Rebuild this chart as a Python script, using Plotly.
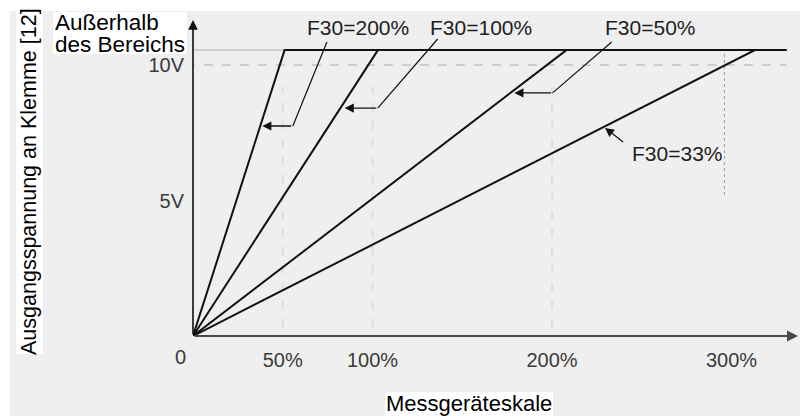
import plotly.graph_objects as go

# Output voltage at terminal [12] versus meter scale for several F30 gains
f30_labels = ["F30=200%", "F30=100%", "F30=50%", "F30=33%"]
knee_pct = [51, 103, 208, 313]        # meter scale (%) where the output saturates
sat_volt = 10.55                      # saturated ("out of range") output level, V
line_end_pct = 330.5                  # end of the saturated segment

x_tick_vals = [50, 100, 200, 300]
x_tick_text = ["50%", "100%", "200%", "300%"]
y_tick_vals = [5, 10]
y_tick_text = ["5V", "10V"]

W, H = 800, 416
ML, MR, MT, MB = 193, 2, 10, 80
X_MAX = 337.0
Y_MAX = 12.03

BG = "#efefef"
INK = "#111111"
FONT = "Liberation Sans, Arial, Helvetica, sans-serif"


def px_x(px):
    return (px - ML) / (W - ML - MR)


def px_y(py):
    return (H - MB - py) / (H - MT - MB)


fig = go.Figure()

# faint scan-style guide lines
guide = dict(color="#d4d4d4", width=2, dash="dash")
fig.add_trace(go.Scatter(x=[-4, line_end_pct], y=[10, 10], mode="lines",
                         line=dict(color="#cdcdcd", width=2, dash="dash"),
                         hoverinfo="skip", cliponaxis=False))
fig.add_trace(go.Scatter(x=[0, knee_pct[0]], y=[sat_volt, sat_volt], mode="lines",
                         line=dict(color="#d0d0d0", width=2),
                         hoverinfo="skip", cliponaxis=False))
for gx in x_tick_vals[:3]:
    fig.add_trace(go.Scatter(x=[gx, gx], y=[0.3, 9.2], mode="lines", line=guide,
                             opacity=0.6, hoverinfo="skip", cliponaxis=False))
fig.add_trace(go.Scatter(x=[296, 296], y=[5.2, 10.55], mode="lines",
                         line=dict(color="#9a9a9a", width=1, dash="dot"),
                         hoverinfo="skip", cliponaxis=False))

# characteristic lines: linear rise, then saturation
for name, knee in zip(f30_labels, knee_pct):
    fig.add_trace(go.Scatter(
        x=[0, knee, line_end_pct], y=[0, sat_volt, sat_volt],
        mode="lines", name=name, line=dict(color=INK, width=2),
        cliponaxis=False, hoverinfo="skip"))

# leader lines from the labels (last point is the elbow before the arrow)
leaders = [
    ([74.6, 55.6], [10.85, 7.75]),
    ([136.3, 102.9], [10.96, 8.41]),
    ([233.2, 200.3], [10.85, 8.97]),
]
for lx, ly in leaders:
    fig.add_trace(go.Scatter(x=lx, y=ly, mode="lines",
                             line=dict(color=INK, width=1.2),
                             cliponaxis=False, hoverinfo="skip"))

annotations = []
# arrowheads touching the lines
arrows = [
    (38.6, 7.75, 55.6, 7.75),
    (84.5, 8.41, 102.9, 8.41),
    (179.0, 8.97, 200.3, 8.97),
    (229.5, 7.68, 240.4, 7.12),
]
for x, y, ax, ay in arrows:
    annotations.append(dict(x=x, y=y, ax=ax, ay=ay, xref="x", yref="y",
                            axref="x", ayref="y", text="", showarrow=True,
                            arrowhead=2, arrowsize=1.4, arrowwidth=1.3,
                            arrowcolor=INK, standoff=0))

# axes with arrow tips
annotations.append(dict(x=0, y=11.66, ax=0, ay=0, xref="x", yref="y",
                        axref="x", ayref="y", text="", showarrow=True,
                        arrowhead=2, arrowsize=1.2, arrowwidth=1.6,
                        arrowcolor=INK, standoff=0))
annotations.append(dict(x=X_MAX, y=0, ax=0, ay=0, xref="x", yref="y",
                        axref="x", ayref="y", text="", showarrow=True,
                        arrowhead=2, arrowsize=1.0, arrowwidth=2.2,
                        arrowcolor="#4a4a4a", standoff=0))

# curve labels
label_pos = [(91.8, 11.40), (160.3, 11.40), (254.3, 11.40), (269.6, 6.75)]
for name, (x, y) in zip(f30_labels, label_pos):
    annotations.append(dict(x=x, y=y, xref="x", yref="y", text=name,
                            showarrow=False, font=dict(family=FONT, size=21,
                                                       color="#1e1e1e")))

# origin label
annotations.append(dict(x=0, y=0, xref="x", yref="y", text="0", showarrow=False,
                        xshift=-13, yshift=-21,
                        font=dict(family=FONT, size=20, color="#3a3a3a")))

# out-of-range note: tight two-line block (small base size keeps line pitch short)
note = ("<span style='font-size:22.5px'>Außerhalb</span><br>"
        "<span style='font-size:22.5px'>des Bereichs</span>")
annotations.append(dict(x=px_x(54), y=px_y(33), xref="paper", yref="paper",
                        xanchor="left", yanchor="middle", align="left",
                        text=note, showarrow=False, borderpad=0,
                        font=dict(family=FONT, size=17, color="black")))
annotations.append(dict(x=px_x(29), y=px_y(182), xref="paper", yref="paper",
                        xanchor="center", yanchor="middle",
                        text="Ausgangsspannung an Klemme [12]", textangle=-90,
                        showarrow=False, borderpad=0,
                        font=dict(family=FONT, size=21.5, color="black")))
annotations.append(dict(x=px_x(469), y=px_y(404), xref="paper", yref="paper",
                        xanchor="center", yanchor="middle",
                        text="Messgeräteskale", showarrow=False, borderpad=0,
                        font=dict(family=FONT, size=22, color="black")))

shapes = [
    # white margins at top and left
    dict(type="rect", xref="paper", yref="paper", x0=px_x(0), x1=px_x(W),
         y0=px_y(0), y1=px_y(11), fillcolor="white", line_width=0, layer="below"),
    dict(type="rect", xref="paper", yref="paper", x0=px_x(0), x1=px_x(10),
         y0=px_y(0), y1=px_y(H), fillcolor="white", line_width=0, layer="below"),
    # white patches behind the added texts
    dict(type="rect", xref="paper", yref="paper", x0=px_x(53), x1=px_x(187),
         y0=px_y(12), y1=px_y(54), fillcolor="white", line_width=0, layer="below"),
    dict(type="rect", xref="paper", yref="paper", x0=px_x(16), x1=px_x(43),
         y0=px_y(10), y1=px_y(354), fillcolor="white", line_width=0, layer="below"),
    dict(type="rect", xref="paper", yref="paper", x0=px_x(385), x1=px_x(553),
         y0=px_y(392), y1=px_y(416), fillcolor="white", line_width=0, layer="below"),
]

fig.update_layout(
    width=W, height=H,
    margin=dict(l=ML, r=MR, t=MT, b=MB),
    paper_bgcolor=BG, plot_bgcolor="rgba(0,0,0,0)",
    showlegend=False,
    annotations=annotations, shapes=shapes,
    xaxis=dict(range=[0, X_MAX], showgrid=False, zeroline=False, showline=False,
               tickvals=x_tick_vals, ticktext=x_tick_text, ticks="",
               ticklabelstandoff=10,
               tickfont=dict(family=FONT, size=20, color="#3a3a3a"),
               fixedrange=True),
    yaxis=dict(range=[0, Y_MAX], showgrid=False, zeroline=False, showline=False,
               tickvals=y_tick_vals, ticktext=y_tick_text, ticks="",
               ticklabelstandoff=8,
               tickfont=dict(family=FONT, size=20, color="#3a3a3a"),
               fixedrange=True),
)

fig.write_html("out.html", config={"displayModeBar": False})
